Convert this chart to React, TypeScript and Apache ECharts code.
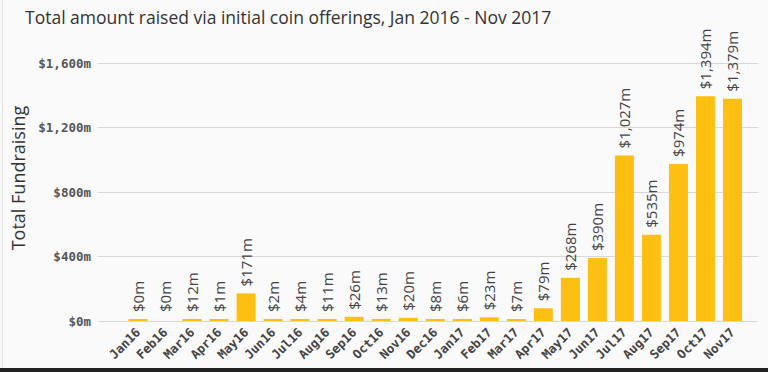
import React, { useEffect, useRef } from "react";
import * as echarts from "echarts";

const categories = [
  "Jan16", "Feb16", "Mar16", "Apr16", "May16", "Jun16", "Jul16", "Aug16",
  "Sep16", "Oct16", "Nov16", "Dec16", "Jan17", "Feb17", "Mar17", "Apr17",
  "May17", "Jun17", "Jul17", "Aug17", "Sep17", "Oct17", "Nov17",
];
const raised = [
  0.3, 0, 12, 1, 171, 2, 4, 11, 26, 13, 20, 8, 6, 23, 7, 79, 268, 390, 1027,
  535, 974, 1394, 1379,
];
const yTicks = [0, 400, 800, 1200, 1600];

const fmt = (v: number) =>
  "$" + Math.round(v).toString().replace(/\B(?=(\d{3})+(?!\d))/g, ",") + "m";

export default function App() {
  const ref = useRef<HTMLDivElement>(null);
  useEffect(() => {
    const chart = echarts.init(ref.current!, undefined, { renderer: "svg" });
    const mono = "'DejaVu Sans Mono', monospace";
    chart.setOption({
      animation: false,
      backgroundColor: "#fafafa",
      title: {
        text: "Total amount raised via initial coin offerings, Jan 2016 - Nov 2017",
        left: 20,
        top: 3,
        textStyle: {
          fontFamily: "'Open Sans', sans-serif",
          fontSize: 17.5,
          fontWeight: "normal",
          color: "#333",
        },
      },
      grid: [
        { left: 98, right: 10, top: 63, bottom: 51 },
        { left: 124.5, right: 22, top: 63, bottom: 51 },
      ],
      xAxis: [
        { type: "category", gridIndex: 0, data: categories, show: false },
        {
          type: "category",
          gridIndex: 1,
          data: categories,
          axisLine: { show: false },
          axisTick: { show: false },
          axisLabel: {
            rotate: 45,
            interval: 0,
            margin: 9,
            fontFamily: mono,
            fontSize: 12.5,
            fontWeight: "bold",
            color: "#444",
          },
        },
      ],
      yAxis: [
        {
          type: "value",
          gridIndex: 0,
          min: yTicks[0],
          max: yTicks[yTicks.length - 1],
          interval: 400,
          axisLine: { show: false },
          axisTick: { show: false },
          axisLabel: {
            margin: 7,
            fontFamily: mono,
            fontSize: 12.5,
            fontWeight: "bold",
            color: "#555",
            formatter: (v: number) => fmt(v),
          },
          splitLine: { lineStyle: { color: "#d8d8d8", width: 1 } },
        },
        {
          type: "value",
          gridIndex: 1,
          min: yTicks[0],
          max: yTicks[yTicks.length - 1],
          interval: 400,
          show: false,
          splitLine: { show: false },
        },
      ],
      series: [
        {
          type: "bar",
          xAxisIndex: 1,
          yAxisIndex: 1,
          data: raised,
          barWidth: 19,
          barMinHeight: 2,
          itemStyle: {
            color: (p: any) => (p.value > 0 ? "#FDBF12" : "rgba(0,0,0,0)"),
          },
          label: {
            show: true,
            position: "top",
            rotate: 90,
            align: "left",
            verticalAlign: "middle",
            distance: 7,
            fontFamily: "'Open Sans', sans-serif",
            fontSize: 15,
            color: "#444",
            formatter: (p: any) => fmt(p.value),
          },
        },
      ],
      graphic: [
        {
          type: "text",
          x: 9,
          y: 178,
          rotation: Math.PI / 2,
          style: {
            text: "Total Fundraising",
            fontFamily: "'Open Sans', sans-serif",
            fontSize: 18,
            fill: "#333",
            align: "center",
            verticalAlign: "top",
          },
        },
        {
          type: "rect",
          shape: { x: 0, y: 368, width: 768, height: 4 },
          style: { fill: "#222" },
        },
        {
          type: "rect",
          shape: { x: 2, y: 0, width: 1, height: 368 },
          style: { fill: "#e2e2e2" },
        },
      ],
    });
    return () => chart.dispose();
  }, []);
  return (
    <div
      ref={ref}
      style={{ position: "fixed", left: 0, top: 0, width: 768, height: 372 }}
    />
  );
}
